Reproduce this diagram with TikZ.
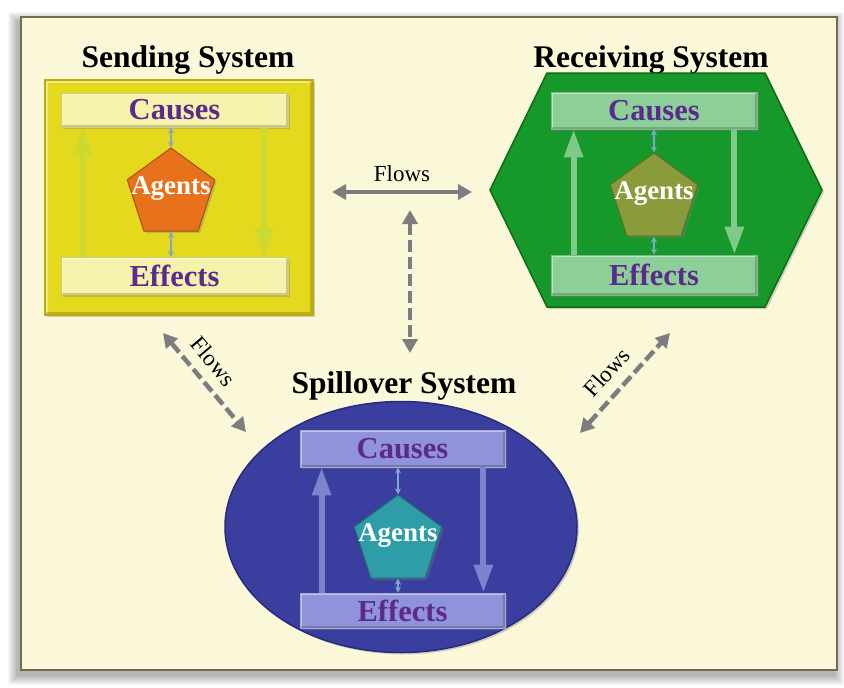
\documentclass[tikz,border=0pt]{standalone}
\usepackage{fontspec}
\setmainfont{Liberation Serif}
\usetikzlibrary{shapes.geometric,arrows.meta,shadows}

\definecolor{paper}{HTML}{FAF8D9}
\definecolor{frameline}{HTML}{6F6D52}
\definecolor{sendfill}{HTML}{E5D91D}
\definecolor{sendedge}{HTML}{B8AC10}
\definecolor{sendbar}{HTML}{F5F2AE}
\definecolor{sendarrow}{HTML}{CCDA30}
\definecolor{recvfill}{HTML}{16992A}
\definecolor{recvedge}{HTML}{0D6C17}
\definecolor{recvbar}{HTML}{8DCF98}
\definecolor{recvarrow}{HTML}{80C98B}
\definecolor{spillfill}{HTML}{3A3E9F}
\definecolor{spilledge}{HTML}{282B7C}
\definecolor{spillbar}{HTML}{8F93D9}
\definecolor{spillarrow}{HTML}{7E83CE}
\definecolor{causetext}{HTML}{5C2A8C}
\definecolor{flowgray}{HTML}{7D7D7D}
\definecolor{linkblue}{HTML}{7FA8CC}
\definecolor{agentorange}{HTML}{E8721C}
\definecolor{agentolive}{HTML}{8A9B3B}
\definecolor{agentteal}{HTML}{2F9DA7}

\newcommand{\agentname}{\smash{\makebox[0pt]{Agents}}}

\tikzset{
  systitle/.style={font=\fontsize{31.5}{33}\selectfont\bfseries, anchor=base},
  softshadow/.style={drop shadow={shadow xshift=2pt, shadow yshift=-2pt, opacity=.35}},
  bevel/.style={path picture={
    \draw[white, opacity=.45, line width=#1]
      (path picture bounding box.south west) -- (path picture bounding box.north west)
      -- (path picture bounding box.north east);
    \draw[black, opacity=.18, line width=#1]
      (path picture bounding box.north east) -- (path picture bounding box.south east)
      -- (path picture bounding box.south west);}},
  bar/.style={rectangle, inner sep=0pt, text=causetext, line width=.8pt, bevel=4pt,
    font=\fontsize{30.5}{32}\selectfont\bfseries, softshadow},
  agent/.style={regular polygon, regular polygon sides=5, minimum size=92pt,
    inner sep=0pt, text=white, line width=1pt,
    font=\fontsize{27}{28}\selectfont\bfseries, softshadow},
  cyclearrow/.style={line width=6pt, -{Triangle[width=18pt,length=28pt]}},
  link/.style={linkblue, line width=1.5pt, {Stealth[length=6pt,width=6pt]}-{Stealth[length=6pt,width=6pt]}},
  flow/.style={flowgray, line width=4.5pt,
    {Triangle[width=15pt,length=14pt]}-{Triangle[width=15pt,length=14pt]}},
  flowlabel/.style={text=black, font=\fontsize{23}{24}\selectfont}
}

\begin{document}
\begin{tikzpicture}[x=1pt,y=-1pt]
  \useasboundingbox (0,0) rectangle (844,688);
  \fill[white] (0,0) rectangle (844,688);
  \foreach \s in {1,...,10}
    \fill[black, opacity=.03] (21-\s-3,17-\s+5) rectangle (837+\s-3,670+\s+5);
  \draw[frameline, line width=2pt, fill=paper] (21,17) rectangle (837,670);

  % sending system
  \node[systitle] (sendTitle) at (188,67) {Sending System};
  \node[draw=sendedge, fill=sendfill, line width=1.5pt, softshadow, bevel=6pt,
    minimum width=268pt, minimum height=235pt] (send) at (179,197.5) {};
  \node[bar, fill=sendbar, draw=sendedge!60, minimum width=227pt, minimum height=34pt] (sendCauses) at (174.5,110) {Causes};
  \node[bar, fill=sendbar, draw=sendedge!60, minimum width=227pt, minimum height=37pt] (sendEffects) at (174.5,276) {Effects};
  \node[agent, fill=agentorange, draw=agentorange!70!black] (sendAgents) at (171,194) {\agentname};
  \draw[cyclearrow, sendarrow] ([xshift=22pt]sendEffects.north west) -- ([xshift=22pt]sendCauses.south west);
  \draw[cyclearrow, sendarrow] ([xshift=-24pt]sendCauses.south east) -- ([xshift=-24pt]sendEffects.north east);
  \draw[link] (sendAgents.corner 1 |- sendCauses.south) -- (sendAgents.corner 1);
  \draw[link] (sendAgents.south) -- (sendAgents.south |- sendEffects.north);

  % receiving system
  \node[systitle] (recvTitle) at (651,67) {Receiving System};
  \path[fill=recvfill, draw=recvedge, line width=1.5pt, softshadow]
    (490,190) -- (547,73) -- (765,73) -- (822,190) -- (765,307) -- (547,307) -- cycle;
  \node[bar, fill=recvbar, draw=recvedge!50, minimum width=206pt, minimum height=37pt] (recvCauses) at (654,110.5) {Causes};
  \node[bar, fill=recvbar, draw=recvedge!50, minimum width=206pt, minimum height=40pt] (recvEffects) at (654,275) {Effects};
  \node[agent, fill=agentolive, draw=agentolive!70!black] (recvAgents) at (654,199) {\agentname};
  \draw[cyclearrow, recvarrow] ([xshift=23pt]recvEffects.north west) -- ([xshift=23pt]recvCauses.south west);
  \draw[cyclearrow, recvarrow] ([xshift=-23pt]recvCauses.south east) -- ([xshift=-23pt]recvEffects.north east);
  \draw[link] (recvAgents.corner 1 |- recvCauses.south) -- (recvAgents.corner 1);
  \draw[link] (recvAgents.south) -- (recvAgents.south |- recvEffects.north);

  % spillover system
  \node[systitle] (spillTitle) at (404,393) {Spillover System};
  \node[ellipse, fill=spillfill, draw=spilledge, line width=1.5pt, softshadow,
    minimum width=352pt, minimum height=251pt] (spill) at (401,527) {};
  \node[bar, fill=spillbar, draw=spilledge!40, minimum width=205pt, minimum height=37pt] (spillCauses) at (402.5,448.5) {Causes};
  \node[bar, fill=spillbar, draw=spilledge!40, minimum width=205pt, minimum height=35pt] (spillEffects) at (402.5,610.5) {Effects};
  \node[agent, fill=agentteal, draw=agentteal!70!black] (spillAgents) at (398,541) {\agentname};
  \draw[cyclearrow, spillarrow] ([xshift=22pt]spillEffects.north west) -- ([xshift=22pt]spillCauses.south west);
  \draw[cyclearrow, spillarrow] ([xshift=-22pt]spillCauses.south east) -- ([xshift=-22pt]spillEffects.north east);
  \draw[link] (spillAgents.corner 1 |- spillCauses.south) -- (spillAgents.corner 1);
  \draw[link] (spillAgents.south) -- (spillAgents.south |- spillEffects.north);

  % flows between the systems
  \coordinate (flowSend) at (332,192);
  \coordinate (flowRecv) at (472,192);
  \coordinate (flowTop) at (410,210);
  \coordinate (flowBottom) at (410,353);
  \coordinate (flowSendCorner) at (163,333);
  \coordinate (flowSpillLeft) at (246,432);
  \coordinate (flowSpillRight) at (580,433);
  \coordinate (flowRecvCorner) at (670,333);
  \draw[flow] (flowSend) -- node[flowlabel, above=5pt] {Flows} (flowRecv);
  \draw[flow, dash pattern=on 12pt off 5pt] (flowTop) -- (flowBottom);
  \draw[flow, dash pattern=on 12pt off 5pt] (flowSendCorner) -- node[flowlabel, sloped, above=7pt, pos=.42] {Flows} (flowSpillLeft);
  \draw[flow, dash pattern=on 12pt off 5pt] (flowSpillRight) -- node[flowlabel, sloped, above=7pt, pos=.47] {Flows} (flowRecvCorner);
\end{tikzpicture}
\end{document}
